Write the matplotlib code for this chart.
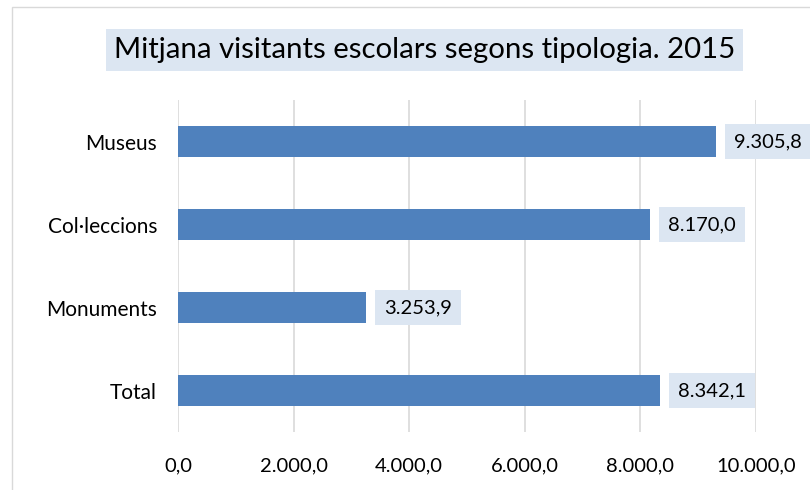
import matplotlib.pyplot as plt
from matplotlib.patches import Rectangle

categories = ["Museus", "Col·leccions", "Monuments", "Total"]
values = [9305.8, 8170.0, 3253.9, 8342.1]
x_ticks = [0, 2000, 4000, 6000, 8000, 10000]
title = "Mitjana visitants escolars segons tipologia. 2015"

BAR_COLOR = "#4f81bd"
BOX_COLOR = "#dce6f2"
FONT = "Lato"


def cat_fmt(v):
    s = f"{v:,.1f}"
    return s.replace(",", "X").replace(".", ",").replace("X", ".")


fig = plt.figure(figsize=(8.1, 4.9), dpi=100)
ax = fig.add_axes([178 / 810, 1 - 432 / 490, (756 - 178) / 810, 332 / 490])

# outer chart border
fig.add_artist(Rectangle((12 / 810, -0.01), 1.0, 1 - 7 / 490 + 0.01,
                         transform=fig.transFigure, fill=False,
                         edgecolor="#d9d9d9", linewidth=1.0))

ypos = list(range(len(categories)))[::-1]
ax.barh(ypos, values, height=0.37, color=BAR_COLOR, zorder=3)

for y, v in zip(ypos, values):
    ax.annotate(cat_fmt(v), (v, y), xytext=(13, 0), textcoords="offset points",
                va="center", ha="left", fontsize=14.5, family=FONT, color="#000000",
                bbox=dict(boxstyle="square,pad=0.45", facecolor=BOX_COLOR, edgecolor="none"),
                annotation_clip=False, zorder=4)

ax.set_xlim(0, 10000)
ax.set_ylim(-0.5, len(categories) - 0.5)
ax.set_xticks(x_ticks)
ax.set_xticklabels([cat_fmt(t) for t in x_ticks], fontsize=14.5, family=FONT)
ax.set_yticks(ypos)
ax.set_yticklabels(categories, fontsize=15, family=FONT)
ax.tick_params(axis="x", length=0, pad=18)
ax.tick_params(axis="y", length=0, pad=15)
ax.grid(axis="x", color="#d9d9d9", linewidth=1.2, zorder=0)
for s in ax.spines.values():
    s.set_visible(False)

fig.text(0.5 * (103 + 746) / 810, 1 - 50 / 490, title, ha="center", va="center",
         fontsize=21.2, family=FONT,
         bbox=dict(boxstyle="square,pad=0.28", facecolor=BOX_COLOR, edgecolor="none"))

fig.savefig("out.png", dpi=100)
